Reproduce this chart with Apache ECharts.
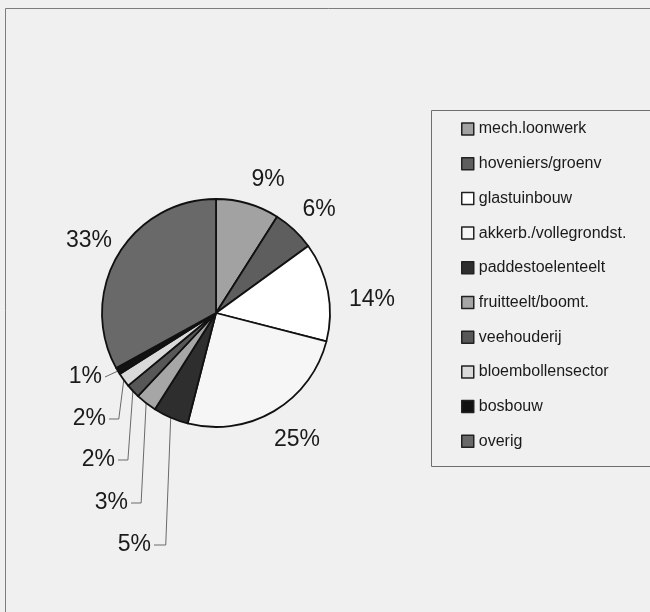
<!DOCTYPE html>
<html>
<head>
<meta charset="utf-8">
<style>
  html, body { margin: 0; padding: 0; background: #f0f0f0; }
  #chart { width: 650px; height: 612px; }
</style>
<script src="https://cdn.jsdelivr.net/npm/echarts@6/dist/echarts.min.js"></script>
</head>
<body>
<div id="chart"></div>
<script>
// Sector shares (percent) in clockwise order from 12 o'clock
const categories = [
  'mech.loonwerk', 'hoveniers/groenv', 'glastuinbouw', 'akkerb./vollegrondst.',
  'paddestoelenteelt', 'fruitteelt/boomt.', 'veehouderij', 'bloembollensector',
  'bosbouw', 'overig'
];
const shares = [9, 6, 14, 25, 5, 3, 2, 2, 1, 33];

// Fill per sector (greyscale palette)
const sliceColors = [
  '#a2a2a2', '#5e5e5e', '#ffffff', '#f6f6f6', '#2e2e2e',
  '#a6a6a6', '#575757', '#dadada', '#121212', '#696969'
];

// Label anchors: [x, y, align]; small sectors get a leader line to a stacked column
const labelAnchors = [
  [268, 180, 'center'], [319, 210, 'center'], [372, 300, 'center'],
  [297, 440, 'center'], [151, 545, 'right'], [128, 503, 'right'],
  [115, 460, 'right'], [106, 419, 'right'], [102, 377, 'right'],
  [89, 241, 'center']
];

const chart = echarts.init(document.getElementById('chart'), null, { renderer: 'canvas' });

const pieData = categories.map((name, i) => {
  const leader = labelAnchors[i][2] === 'right';
  return {
    name: name,
    value: shares[i],
    itemStyle: { color: sliceColors[i] },
    labelLine: { show: leader }
  };
});

chart.setOption({
  backgroundColor: '#f0f0f0',
  animation: false,
  textStyle: { fontFamily: '"Liberation Sans", Arial, sans-serif' },
  graphic: [
    { type: 'line', shape: { x1: 5.5, y1: 8.5, x2: 660, y2: 8.5 },
      style: { stroke: '#7c7c7c', lineWidth: 1 } },
    { type: 'line', shape: { x1: 5.5, y1: 8.5, x2: 5.5, y2: 620 },
      style: { stroke: '#7c7c7c', lineWidth: 1 } },
    { type: 'rect', shape: { x: 431.5, y: 110.5, width: 300, height: 356 },
      style: { stroke: '#6e6e6e', lineWidth: 1, fill: null } }
  ],
  legend: {
    orient: 'vertical',
    left: 461,
    top: 121,
    padding: 0,
    icon: 'rect',
    itemWidth: 12,
    itemHeight: 12,
    itemGap: 18.7,
    selectedMode: false,
    itemStyle: { borderColor: '#222', borderWidth: 1.5 },
    textStyle: {
      fontFamily: '"Liberation Sans", Arial, sans-serif',
      fontSize: 16,
      lineHeight: 16,
      color: '#1a1a1a'
    },
    data: categories
  },
  series: [{
    type: 'pie',
    center: [216, 313],
    radius: 114,
    startAngle: 90,
    clockwise: true,
    avoidLabelOverlap: false,
    data: pieData,
    itemStyle: { borderColor: '#111', borderWidth: 1.8 },
    emphasis: { disabled: true },
    label: {
      show: true,
      position: 'outside',
      formatter: p => p.value + '%',
      fontFamily: '"Liberation Sans", Arial, sans-serif',
      fontSize: 23,
      color: '#1a1a1a'
    },
    labelLine: {
      show: true,
      lineStyle: { color: '#6a6a6a', width: 1 }
    },
    labelLayout: function (params) {
      const a = labelAnchors[params.dataIndex];
      const out = { x: a[0], y: a[1], align: a[2], verticalAlign: 'middle' };
      if (a[2] === 'right' && params.labelLinePoints) {
        const start = params.labelLinePoints[0];
        const end = [a[0] + 3, a[1]];
        const bend = params.dataIndex === 8 ? end : [start[0] - 5, a[1]];
        out.labelLinePoints = [start, bend, end];
      }
      return out;
    }
  }]
});
</script>
</body>
</html>
